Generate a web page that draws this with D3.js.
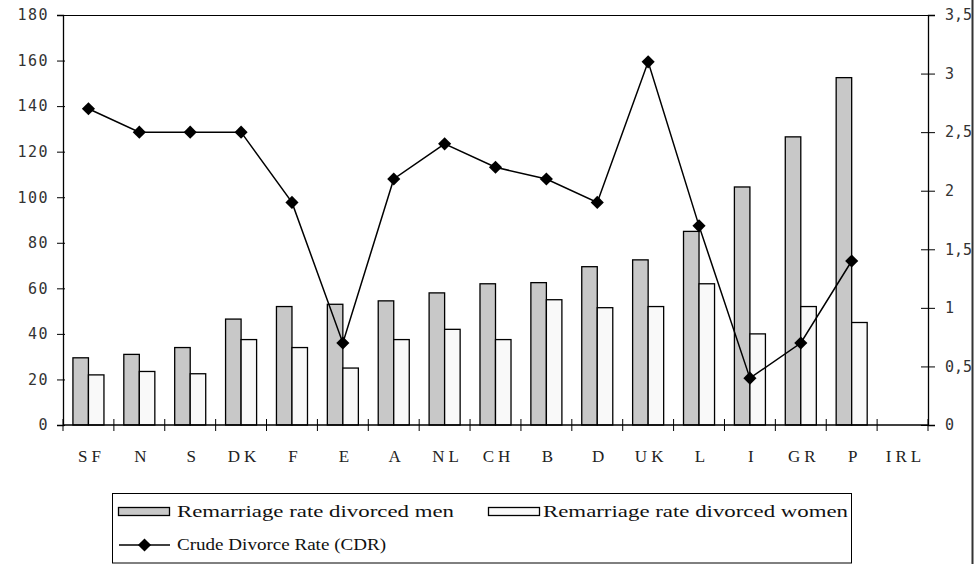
<!DOCTYPE html>
<html>
<head>
<meta charset="utf-8">
<script src="https://cdn.jsdelivr.net/npm/d3@7"></script>
<style>
  html, body { margin: 0; padding: 0; background: #fff; }
  svg { display: block; }
  .tick-num { font-family: "DejaVu Sans Mono", "Liberation Mono", monospace; font-size: 15px; fill: #333; letter-spacing: 1.5px; }
  .tick-r { font-family: "DejaVu Sans Mono", "Liberation Mono", monospace; font-size: 15px; fill: #333; letter-spacing: 0px; }
  .cat { font-family: "Liberation Serif", "DejaVu Serif", serif; font-size: 17px; fill: #222; letter-spacing: 4px; }
  .leg { font-family: "Liberation Serif", "DejaVu Serif", serif; font-size: 17px; fill: #111; }
</style>
</head>
<body>
<div id="chart"></div>
<script>
'use strict';

// ─── Data ──────────────────────────────────────────────────────────────────
const countries  = ['SF', 'N', 'S', 'DK', 'F', 'E', 'A', 'NL', 'CH', 'B', 'D', 'UK', 'L', 'I', 'GR', 'P', 'IRL'];
const menRate    = [29.5, 31, 34, 46.5, 52, 53, 54.5, 58, 62, 62.5, 69.5, 72.5, 85, 104.5, 126.5, 152.5, null];
const womenRate  = [22, 23.5, 22.5, 37.5, 34, 25, 37.5, 42, 37.5, 55, 51.5, 52, 62, 40, 52, 45, null];
const cdr        = [2.7, 2.5, 2.5, 2.5, 1.9, 0.7, 2.1, 2.4, 2.2, 2.1, 1.9, 3.1, 1.7, 0.4, 0.7, 1.4, null];
const leftTicks  = [0, 20, 40, 60, 80, 100, 120, 140, 160, 180];
const rightTicks = [0, 0.5, 1, 1.5, 2, 2.5, 3, 3.5];
const seriesKeys = ['men', 'women'];
const seriesNames = ['Remarriage rate divorced men', 'Remarriage rate divorced women', 'Crude Divorce Rate (CDR)'];

// ─── Layout ────────────────────────────────────────────────────────────────
const W = 978, H = 564;
const plot = { left: 63, right: 928, top: 15, bottom: 425 };

const svg = d3.select('#chart').append('svg')
    .attr('width', W).attr('height', H);

const x = d3.scaleBand().domain(countries).range([plot.left, plot.right]).paddingInner(0).paddingOuter(0);
const x1 = d3.scaleBand().domain(seriesKeys).range([0, x.bandwidth()]).paddingInner(0).paddingOuter(0.64);
const yL = d3.scaleLinear().domain([0, 180]).range([plot.bottom, plot.top]);
const yR = d3.scaleLinear().domain([0, 3.5]).range([plot.bottom, plot.top]);

const fmtR = function (d) { return String(d).replace('.', ','); };

// top frame line
svg.append('line')
    .attr('x1', plot.left).attr('x2', plot.right)
    .attr('y1', plot.top + 0.5).attr('y2', plot.top + 0.5)
    .attr('stroke', '#000').attr('stroke-width', 1);

// ─── Bars ──────────────────────────────────────────────────────────────────
const rows = countries.map(function (c, i) {
    return { c: c, men: menRate[i], women: womenRate[i] };
});
const fills = { men: '#c8c8c8', women: '#f9f9f9' };

const groups = svg.append('g').selectAll('g')
    .data(rows).enter().append('g')
    .attr('transform', function (d) { return 'translate(' + x(d.c) + ',0)'; });

groups.selectAll('rect')
    .data(function (d) {
        return seriesKeys.filter(function (k) { return d[k] != null; })
            .map(function (k) { return { k: k, v: d[k] }; });
    })
    .enter().append('rect')
    .attr('x', function (d) { return x1(d.k); })
    .attr('width', x1.bandwidth())
    .attr('y', function (d) { return yL(d.v); })
    .attr('height', function (d) { return yL(0) - yL(d.v); })
    .attr('fill', function (d) { return fills[d.k]; })
    .attr('stroke', '#000')
    .attr('stroke-width', 1.3);

// ─── Axes ──────────────────────────────────────────────────────────────────
const axL = svg.append('g').attr('transform', 'translate(' + plot.left + ',0)')
    .call(d3.axisLeft(yL).tickValues(leftTicks).tickSize(6).tickPadding(8));
axL.select('.domain').attr('stroke', '#000').attr('stroke-width', 1.3);
axL.selectAll('.tick line').attr('x2', -6).attr('x1', 2).attr('stroke', '#000');
axL.selectAll('text').attr('class', 'tick-num').attr('font-family', null).attr('font-size', null);

const axR = svg.append('g').attr('transform', 'translate(' + plot.right + ',0)')
    .call(d3.axisRight(yR).tickValues(rightTicks).tickFormat(fmtR).tickSize(7).tickPadding(10));
axR.select('.domain').attr('stroke', '#000').attr('stroke-width', 1.3);
axR.selectAll('.tick line').attr('x1', -7).attr('stroke', '#000');
axR.selectAll('text').attr('class', 'tick-r').attr('font-family', null).attr('font-size', null);

// x axis: ticks at category boundaries
const axB = svg.append('g').attr('transform', 'translate(0,' + plot.bottom + ')');
axB.append('line')
    .attr('x1', plot.left).attr('x2', plot.right)
    .attr('stroke', '#000').attr('stroke-width', 1.5);
axB.selectAll('.xt').data(countries.concat(['_end']))
    .enter().append('line')
    .attr('x1', function (d) { return d === '_end' ? plot.right : x(d); })
    .attr('x2', function (d) { return d === '_end' ? plot.right : x(d); })
    .attr('y1', -6).attr('y2', 6)
    .attr('stroke', '#000').attr('stroke-width', 1);
axB.selectAll('.cat').data(countries)
    .enter().append('text')
    .attr('class', 'cat')
    .attr('x', function (d) { return x(d) + x.bandwidth() / 2 + 3; })
    .attr('y', 37)
    .attr('text-anchor', 'middle')
    .text(function (d) { return d; });

// ─── CDR line ──────────────────────────────────────────────────────────────
const pts = countries.map(function (c, i) { return { c: c, v: cdr[i] }; })
    .filter(function (d) { return d.v != null; });

const line = d3.line()
    .x(function (d) { return x(d.c) + x.bandwidth() / 2; })
    .y(function (d) { return yR(d.v); });

svg.append('path')
    .datum(pts)
    .attr('d', line)
    .attr('fill', 'none')
    .attr('stroke', '#000')
    .attr('stroke-width', 1.5);

const diamond = d3.symbol().type(d3.symbolDiamond2).size(110);
svg.append('g').selectAll('path')
    .data(pts).enter().append('path')
    .attr('d', diamond)
    .attr('transform', function (d) {
        return 'translate(' + (x(d.c) + x.bandwidth() / 2) + ',' + yR(d.v) + ')';
    })
    .attr('fill', '#000');

// ─── Legend ────────────────────────────────────────────────────────────────
const leg = svg.append('g');
leg.append('rect')
    .attr('x', 112.5).attr('y', 493.5).attr('width', 739).attr('height', 69.5)
    .attr('fill', '#fff').attr('stroke', '#000').attr('stroke-width', 1);

leg.append('rect').attr('x', 118.5).attr('y', 507.5).attr('width', 51).attr('height', 8)
    .attr('fill', fills.men).attr('stroke', '#000').attr('stroke-width', 1.3);
leg.append('text').attr('class', 'leg').attr('x', 177).attr('y', 517)
    .attr('textLength', 277).attr('lengthAdjust', 'spacingAndGlyphs')
    .text(seriesNames[0]);

leg.append('rect').attr('x', 488.5).attr('y', 507.5).attr('width', 51).attr('height', 8)
    .attr('fill', fills.women).attr('stroke', '#000').attr('stroke-width', 1.3);
leg.append('text').attr('class', 'leg').attr('x', 543).attr('y', 517)
    .attr('textLength', 305).attr('lengthAdjust', 'spacingAndGlyphs')
    .text(seriesNames[1]);

leg.append('line').attr('x1', 119).attr('x2', 170).attr('y1', 545).attr('y2', 545)
    .attr('stroke', '#000').attr('stroke-width', 1.5);
leg.append('path').attr('d', diamond).attr('transform', 'translate(144.5,545)').attr('fill', '#000');
leg.append('text').attr('class', 'leg').attr('x', 177).attr('y', 550)
    .attr('textLength', 209).attr('lengthAdjust', 'spacingAndGlyphs')
    .text(seriesNames[2]);

// outer right frame edge
svg.append('line')
    .attr('x1', 972.5).attr('x2', 972.5).attr('y1', 0).attr('y2', H)
    .attr('stroke', '#333').attr('stroke-width', 2);
</script>
</body>
</html>
